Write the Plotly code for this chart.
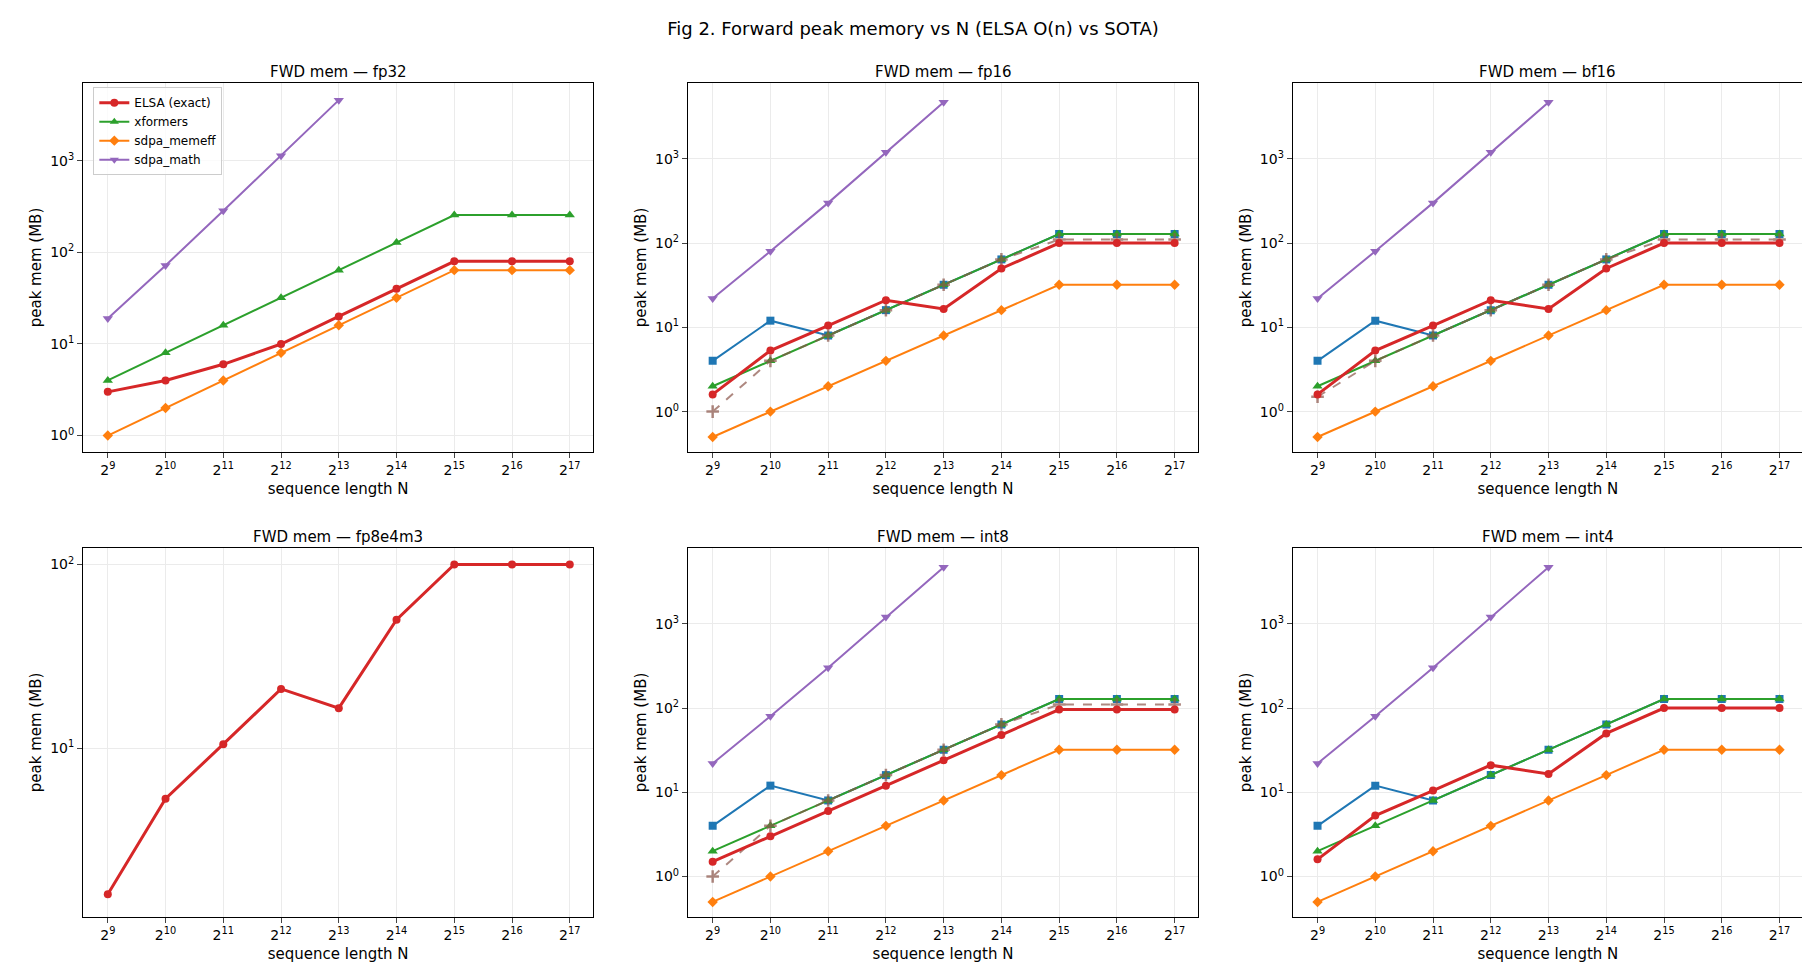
import plotly.graph_objects as go
from plotly.subplots import make_subplots

N = [2**k for k in range(9, 18)]
X_TICKTEXT = [f"2<sup>{k}</sup>" for k in range(9, 18)]

# per-panel series (MB); missing key = not measured
panels = ["fp32", "fp16", "bf16", "fp8e4m3", "int8", "int4"]

elsa = {
    "fp32": [3, 4, 6, 10, 20, 40, 80, 80, 80],
    "fp16": [1.6, 5.3, 10.5, 21, 16.5, 50, 100, 100, 100],
    "bf16": [1.6, 5.3, 10.5, 21, 16.5, 50, 100, 100, 100],
    "fp8e4m3": [1.6, 5.3, 10.5, 21, 16.5, 50, 100, 100, 100],
    "int8": [1.5, 3, 6, 12, 24, 48, 96, 96, 96],
    "int4": [1.6, 5.3, 10.5, 21, 16.5, 50, 100, 100, 100],
}
xformers = {
    "fp32": [4, 8, 16, 32, 64, 128, 256, 256, 256],
    "fp16": [2, 4, 8, 16, 32, 64, 128, 128, 128],
    "bf16": [2, 4, 8, 16, 32, 64, 128, 128, 128],
    "int8": [2, 4, 8, 16, 32, 64, 128, 128, 128],
    "int4": [2, 4, 8, 16, 32, 64, 128, 128, 128],
}
memeff = {
    "fp32": [1, 2, 4, 8, 16, 32, 64, 64, 64],
    "fp16": [0.5, 1, 2, 4, 8, 16, 32, 32, 32],
    "bf16": [0.5, 1, 2, 4, 8, 16, 32, 32, 32],
    "int8": [0.5, 1, 2, 4, 8, 16, 32, 32, 32],
    "int4": [0.5, 1, 2, 4, 8, 16, 32, 32, 32],
}
sdpa_math_fp32 = [19, 72, 285, 1140, 4600]
sdpa_math_lp = [22, 80, 300, 1200, 4700]
math = {"fp32": sdpa_math_fp32, "fp16": sdpa_math_lp, "bf16": sdpa_math_lp,
        "int8": sdpa_math_lp, "int4": sdpa_math_lp}
blue_sq = [4, 12, 8, 16, 32, 64, 128, 128, 128]
blocked = {"fp16": blue_sq, "bf16": blue_sq, "int8": blue_sq, "int4": blue_sq}
brown_fp16 = [1, 4, 8, 16, 32, 64, 110, 110, 110]
brown_bf16 = [1.5, 4, 8, 16, 32, 64, 110, 110, 110]
chunked = {"fp16": brown_fp16, "bf16": brown_bf16, "int8": brown_fp16}

yranges = {"fp32": (-0.18, 3.85), "fp16": (-0.48, 3.9), "bf16": (-0.48, 3.9),
           "fp8e4m3": (0.08, 2.09), "int8": (-0.48, 3.9), "int4": (-0.48, 3.9)}

RED, GREEN, ORANGE, PURPLE, BLUE, BROWN = "#d62728", "#2ca02c", "#ff7f0e", "#9467bd", "#1f77b4", "#8c564b"

fig = make_subplots(rows=2, cols=3, subplot_titles=[f"FWD mem — {p}" for p in panels],
                    horizontal_spacing=0.055, vertical_spacing=0.115)

for i, p in enumerate(panels):
    r, c = i // 3 + 1, i % 3 + 1
    if p in blocked:
        fig.add_scatter(x=N, y=blocked[p], mode="lines+markers", name="blocked", showlegend=False,
                        line=dict(color=BLUE, width=2), marker=dict(symbol="square", size=8), row=r, col=c)
    if p in memeff:
        fig.add_scatter(x=N, y=memeff[p], mode="lines+markers", name="sdpa_memeff", showlegend=False,
                        line=dict(color=ORANGE, width=2), marker=dict(symbol="diamond", size=8), row=r, col=c)
    if p in xformers:
        fig.add_scatter(x=N, y=xformers[p], mode="lines+markers", name="xformers", showlegend=False,
                        line=dict(color=GREEN, width=2), marker=dict(symbol="triangle-up", size=9), row=r, col=c)
    if p in chunked:
        fig.add_scatter(x=N, y=chunked[p], mode="lines+markers", name="chunked", showlegend=False,
                        opacity=0.7, line=dict(color=BROWN, width=2, dash="dash"),
                        marker=dict(symbol="cross-thin", size=9, line=dict(color=BROWN, width=2.5)), row=r, col=c)
    if p in math:
        fig.add_scatter(x=N[:len(math[p])], y=math[p], mode="lines+markers", name="sdpa_math", showlegend=False,
                        line=dict(color=PURPLE, width=2), marker=dict(symbol="triangle-down", size=9), row=r, col=c)
    fig.add_scatter(x=N, y=elsa[p], mode="lines+markers", name="ELSA (exact)", showlegend=False,
                    line=dict(color=RED, width=3), marker=dict(symbol="circle", size=8), row=r, col=c)
    fig.update_xaxes(type="log", tickvals=N, ticktext=X_TICKTEXT, range=[2.58, 5.24],
                     title_text="sequence length N", row=r, col=c)
    fig.update_yaxes(type="log", range=list(yranges[p]),
                     tickvals=[1, 10, 100, 1000], ticktext=["10<sup>0</sup>", "10<sup>1</sup>", "10<sup>2</sup>", "10<sup>3</sup>"],
                     title_text="peak mem (MB)", row=r, col=c)

# legend entries (first panel only)
for name, color, sym, w in [("ELSA (exact)", RED, "circle", 3), ("xformers", GREEN, "triangle-up", 2),
                            ("sdpa_memeff", ORANGE, "diamond", 2), ("sdpa_math", PURPLE, "triangle-down", 2)]:
    fig.add_scatter(x=[None], y=[None], mode="lines+markers", name=name, showlegend=True,
                    line=dict(color=color, width=w), marker=dict(symbol=sym, size=8), row=1, col=1)

fig.update_xaxes(showline=True, linecolor="black", mirror=True, ticks="outside", showgrid=True,
                 gridcolor="#ebebeb", zeroline=False, title_standoff=6, tickfont_size=14,
                 title_font_size=15)
fig.update_yaxes(showline=True, linecolor="black", mirror=True, ticks="outside", showgrid=True,
                 gridcolor="#ebebeb", zeroline=False, title_standoff=4, tickfont_size=14,
                 title_font_size=15)
fig.update_annotations(font_size=15)
fig.update_layout(
    width=1810, height=969, template="simple_white",
    font=dict(family="DejaVu Sans", size=14, color="black"),
    title=dict(text="Fig 2. Forward peak memory vs N (ELSA O(n) vs SOTA)", x=0.5, y=0.985, font_size=18),
    margin=dict(l=75, r=15, t=75, b=60),
    legend=dict(x=0.006, y=0.995, xanchor="left", yanchor="top", font_size=12,
                bordercolor="#cccccc", borderwidth=1, bgcolor="rgba(255,255,255,0.8)"),
)
fig.write_html("out.html")
